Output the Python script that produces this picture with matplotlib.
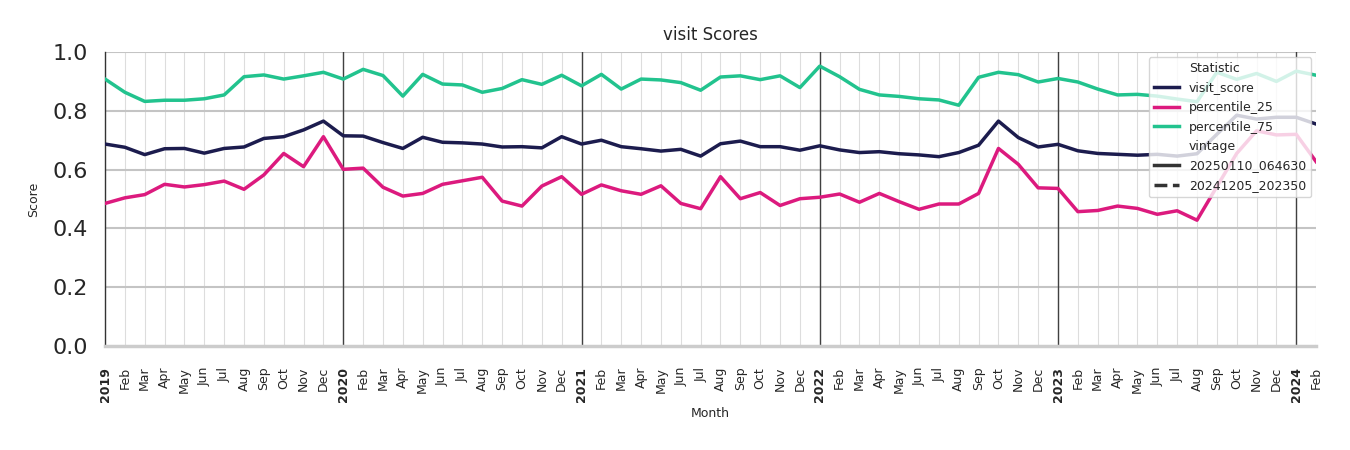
import matplotlib
matplotlib.use("Agg")
from matplotlib import pyplot
from matplotlib.lines import Line2D
import numpy

# month labels, Jan 2019 .. Feb 2024
years = ["2019", "2020", "2021", "2022", "2023", "2024"]
month_names = ["Jan", "Feb", "Mar", "Apr", "May", "Jun",
               "Jul", "Aug", "Sep", "Oct", "Nov", "Dec"]
n_months = 62

visit_score = [
    0.687, 0.676, 0.651, 0.671, 0.672, 0.656, 0.672, 0.677, 0.706, 0.712, 0.735, 0.765,
    0.715, 0.714, 0.692, 0.672, 0.710, 0.693, 0.691, 0.687, 0.677, 0.678, 0.674, 0.712,
    0.687, 0.700, 0.678, 0.671, 0.663, 0.669, 0.646, 0.688, 0.697, 0.678, 0.678, 0.666,
    0.681, 0.667, 0.658, 0.661, 0.654, 0.650, 0.644, 0.658, 0.683, 0.765, 0.709, 0.677,
    0.686, 0.664, 0.655, 0.652, 0.649, 0.652, 0.646, 0.654, 0.720, 0.785, 0.772, 0.778,
    0.778, 0.755,
]
percentile_25 = [
    0.485, 0.504, 0.515, 0.550, 0.541, 0.549, 0.561, 0.533, 0.582, 0.655, 0.610, 0.712,
    0.601, 0.605, 0.540, 0.510, 0.519, 0.550, 0.562, 0.574, 0.493, 0.476, 0.544, 0.576,
    0.516, 0.548, 0.528, 0.516, 0.545, 0.485, 0.467, 0.576, 0.501, 0.522, 0.478, 0.501,
    0.506, 0.517, 0.489, 0.519, 0.491, 0.465, 0.483, 0.483, 0.519, 0.672, 0.618, 0.538,
    0.536, 0.457, 0.461, 0.476, 0.468, 0.448, 0.460, 0.428, 0.542, 0.655, 0.732, 0.718,
    0.720, 0.627,
]
percentile_75 = [
    0.908, 0.863, 0.832, 0.836, 0.836, 0.841, 0.854, 0.916, 0.922, 0.908, 0.919, 0.931,
    0.908, 0.941, 0.920, 0.850, 0.924, 0.891, 0.888, 0.863, 0.876, 0.906, 0.890, 0.921,
    0.885, 0.924, 0.874, 0.908, 0.905, 0.896, 0.870, 0.915, 0.919, 0.906, 0.919, 0.879,
    0.952, 0.916, 0.873, 0.854, 0.849, 0.841, 0.837, 0.819, 0.914, 0.931, 0.923, 0.898,
    0.910, 0.898, 0.874, 0.854, 0.856, 0.850, 0.840, 0.831, 0.931, 0.907, 0.927, 0.900,
    0.935, 0.921,
]

stats = ["visit_score", "percentile_25", "percentile_75"]
colors = ["#1c1c4e", "#dc1a7e", "#22c38e"]
vintages = ["20250110_064630", "20241205_202350"]

x = numpy.arange(n_months)
tick_labels = []
for i in range(n_months):
    if i % 12 == 0:
        tick_labels.append(years[i // 12])
    else:
        tick_labels.append(month_names[i % 12])

fig = pyplot.figure(figsize=(13.5, 4.5), dpi=100)
ax = fig.add_axes([0.0778, 0.2311, 0.8971, 0.6533])

# grid: light vertical per month, gray horizontal
for i in x:
    ax.axvline(i, color="#dddddd", linewidth=0.8, zorder=0)
for yv in [0.2, 0.4, 0.6, 0.8, 1.0]:
    ax.axhline(yv, color="#c4c4c4", linewidth=1.5, zorder=0)
# year separators
for i in x[::12]:
    if i > 0:
        ax.axvline(i, color="#404040", linewidth=1.0, zorder=1)

for vals, c in zip([visit_score, percentile_25, percentile_75], colors):
    ax.plot(x, vals, color=c, linewidth=2.5, zorder=3)

ax.set_xlim(0, n_months - 1)
ax.set_ylim(0, 1.0)
ax.set_yticks([0.0, 0.2, 0.4, 0.6, 0.8, 1.0])
ax.set_yticklabels(["0.0", "0.2", "0.4", "0.6", "0.8", "1.0"])
ax.tick_params(axis="y", labelsize=16, length=0, pad=12, labelcolor="#262626")
ax.set_xticks(x)
ax.set_xticklabels(tick_labels, rotation=90)
ax.tick_params(axis="x", labelsize=9, length=0, pad=15, labelcolor="#262626")
for lab in ax.get_xticklabels():
    if lab.get_text().isdigit():
        lab.set_fontweight("bold")

for s in ["top", "right"]:
    ax.spines[s].set_visible(False)
ax.spines["left"].set_color("#333333")
ax.spines["left"].set_linewidth(1.0)
ax.spines["bottom"].set_color("#cccccc")
ax.spines["bottom"].set_linewidth(2.5)

ax.set_title("visit Scores", fontsize=12, color="#262626", pad=9)
ax.set_ylabel("Score", fontsize=9, color="#262626", labelpad=9)
ax.set_xlabel("Month", fontsize=9, color="#262626", labelpad=4)

# legend in seaborn style with sub-headings
handles = [Line2D([], [], color="none", label="Statistic")]
for s, c in zip(stats, colors):
    handles.append(Line2D([], [], color=c, linewidth=2.5, label=s))
handles.append(Line2D([], [], color="none", label="vintage"))
handles.append(Line2D([], [], color="#333333", linewidth=2.5, label=vintages[0]))
handles.append(Line2D([], [], color="#333333", linewidth=2.5, linestyle="--", label=vintages[1]))
leg = ax.legend(handles=handles, loc="upper right", fontsize=9, framealpha=0.8,
                edgecolor="#cccccc", borderaxespad=0.4, labelspacing=0.52)
for t in leg.get_texts():
    t.set_color("#262626")
leg.set_zorder(5)

fig.savefig("out.png")
